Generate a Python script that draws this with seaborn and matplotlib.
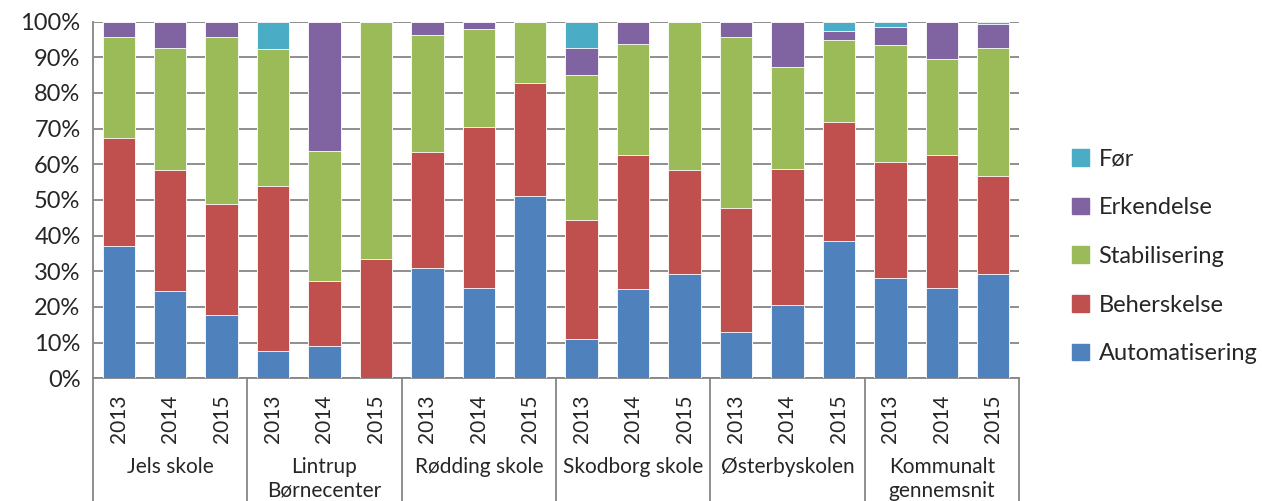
import numpy as np
import pandas as pd
import matplotlib
matplotlib.use("Agg")
import matplotlib.pyplot as plt
import matplotlib.patches as mpatches
import matplotlib.ticker as mtick
import seaborn as sns

#%%
# data (percent of pupils per level)

schools = ["Jels skole", "Lintrup\nBørnecenter", "Rødding skole",
           "Skodborg skole", "Østerbyskolen", "Kommunalt\ngennemsnit"]
years = ["2013", "2014", "2015"]

automatisering = [37.0, 24.4, 17.8, 7.7, 9.1, 0.0, 30.8, 25.4, 51.2,
                  11.1, 25.0, 29.2, 13.0, 20.4, 38.4, 28.0, 25.3, 29.2]
beherskelse = [30.3, 34.1, 31.0, 46.1, 18.1, 33.3, 32.7, 45.1, 31.7,
               33.3, 37.5, 29.1, 34.8, 38.4, 33.3, 32.6, 37.4, 27.6]
stabilisering = [28.3, 34.1, 46.8, 38.5, 36.4, 66.7, 32.6, 27.5, 17.1,
                 40.7, 31.2, 41.7, 47.9, 28.4, 23.1, 32.8, 26.9, 35.8]
erkendelse = [4.4, 7.4, 4.4, 0.0, 36.4, 0.0, 3.9, 2.0, 0.0,
              7.4, 6.3, 0.0, 4.3, 12.8, 2.6, 5.2, 10.4, 6.8]
foer = [0.0, 0.0, 0.0, 7.7, 0.0, 0.0, 0.0, 0.0, 0.0,
        7.5, 0.0, 0.0, 0.0, 0.0, 2.6, 1.4, 0.0, 0.6]

levels = ["Automatisering", "Beherskelse", "Stabilisering", "Erkendelse", "Før"]
colors = ["#4F81BD", "#C0504D", "#9BBB59", "#8064A2", "#4BACC6"]

#%%
# build table, cumulative sums for stacking

df = pd.DataFrame({
    "School": np.repeat(schools, len(years)),
    "Year": years * len(schools),
    "Automatisering": automatisering,
    "Beherskelse": beherskelse,
    "Stabilisering": stabilisering,
    "Erkendelse": erkendelse,
    "Før": foer,
})
df["key"] = df["School"] + "|" + df["Year"]
cum = df[levels].cumsum(axis=1)

#%%
sns.set_style("white")
plt.rcParams["font.family"] = ["Lato", "DejaVu Sans"]

fig = plt.figure(figsize=(12.62, 5.01), dpi=100)
ax = fig.add_axes([0.0737, 0.245, 0.7337, 0.712])

order = list(df["key"])
for lvl, col in reversed(list(zip(levels, colors))):
    sns.barplot(x=df["key"], y=cum[lvl], order=order, color=col, width=0.63,
                saturation=1, ax=ax, zorder=3, linewidth=0.6, edgecolor="#ffffff")

ax.set_ylim(0, 100)
ax.set_xlim(-0.5, len(order) - 0.5)
ax.yaxis.set_major_locator(mtick.MultipleLocator(10))
ax.yaxis.set_major_formatter(mtick.PercentFormatter(decimals=0))
ax.grid(axis="y", color="#868686", linewidth=1.3, zorder=0)
ax.set_axisbelow(True)
for s in ["right", "top"]:
    ax.spines[s].set_visible(False)
for s in ["left", "bottom"]:
    ax.spines[s].set_color("#868686")
    ax.spines[s].set_linewidth(1.3)
ax.tick_params(axis="y", length=5, width=1.3, color="#868686", labelsize=17, pad=4)
ax.tick_params(axis="x", length=0, labelsize=15, pad=12)
ax.set_xticks(range(len(order)))
ax.set_xticklabels(df["Year"], rotation=90)
ax.set_xlabel("")
ax.set_ylabel("")

# group labels and separators
trans = ax.get_xaxis_transform()
for i, name in enumerate(schools):
    ax.text(i * 3 + 1, -0.22, name, transform=trans, ha="center", va="top",
            fontsize=15, linespacing=1.25)
for b in np.arange(-0.5, len(order), 3):
    ax.plot([b, b], [0, -0.345], transform=trans, color="#868686",
            linewidth=1.3, clip_on=False)

handles = [mpatches.Patch(color=c, label=l) for l, c in zip(levels, colors)][::-1]
fig.legend(handles=handles, loc="center left", bbox_to_anchor=(0.833, 0.488),
           frameon=False, fontsize=17, handlelength=0.7, handleheight=0.7,
           handletextpad=0.4, labelspacing=1.17)

fig.savefig("out.png", dpi=100)
